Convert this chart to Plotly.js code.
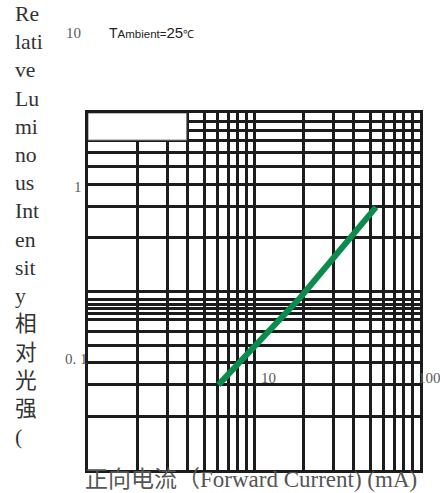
<!DOCTYPE html>
<html>
<head>
<meta charset="utf-8">
<script src="https://cdn.plot.ly/plotly-3.0.1.min.js"></script>
<style>
  html, body { margin: 0; padding: 0; background: #fff; }
  #chart { width: 440px; height: 493px; }
</style>
</head>
<body>
<div id="chart"></div>
<script>
// ---- data ----
const forwardCurrent = [6.1, 9.5, 18.9, 28.3, 54.3];        // mA
const relIntensity   = [0.30, 0.47, 0.92, 1.44, 2.97];      // relative
const xGridVals = [1,2,3,4,5,6,7,8,9,10,20,30,40,50,60,70,80,90,100];
const yGridVals = [0.1,0.2,0.3,0.4,0.5,0.6,0.7,0.75,0.8,0.85,0.9,1,2,3,4,5,6,7,8,9,10];
const xTickLabels = ['10', '100'];
const yTickLabels = ['10', '1', '0. 1'];
const yTitleParts = ['Re','lati','ve','Lu','mi','no','us','Int','en','sit','y','相','对','光','强','('];
const xTitleText = '正向电流（Forward Current) (mA)';
const ambientText = ['T', 'Ambient=', '25', '℃'];

// ---- layout geometry ----
const W = 440, H = 493;
const L = 88, R = 420, T = 113, B = 470;
const px = v => (v - L) / (R - L);
const py = v => (B - v) / (B - T);

const serif = 'Liberation Serif, Noto Sans CJK SC, serif';
const sans = 'Liberation Sans, Arial, sans-serif';

const trace = {
  x: forwardCurrent,
  y: relIntensity,
  type: 'scatter',
  mode: 'lines',
  line: { color: '#0b8c4c', width: 6 },
  hoverinfo: 'skip'
};

const annotations = [
  // y tick labels
  { text: yTickLabels[0], x: px(73.5), y: py(33) },
  { text: yTickLabels[1], x: px(77.5), y: py(187) },
  { text: yTickLabels[2], x: px(76.5), y: py(359) },
  // x tick labels
  { text: xTickLabels[0], x: px(268.5), y: py(378) },
  { text: xTickLabels[1], x: px(429.5), y: py(378) }
].map(a => Object.assign({
  xref: 'paper', yref: 'paper', showarrow: false,
  xanchor: 'center', yanchor: 'middle',
  font: { family: serif, size: 15, color: '#5a5a5a' }
}, a));

annotations.push({
  xref: 'paper', yref: 'paper', showarrow: false,
  x: px(107), y: py(33), xanchor: 'left', yanchor: 'middle',
  text: '<span style="font-size:14px">' + ambientText[0] + '</span>' +
        '<span style="font-size:11.5px">' + ambientText[1] + '</span>' +
        '<span style="font-size:15px">' + ambientText[2] + '</span>' +
        '<span style="font-size:11px">' + ambientText[3] + '</span>',
  font: { family: sans, size: 14, color: '#222' }
});

annotations.push({
  xref: 'paper', yref: 'paper', showarrow: false,
  x: px(251), y: py(480), xanchor: 'center', yanchor: 'middle',
  text: xTitleText,
  font: { family: serif, size: 23, color: '#555' }
});

annotations.push({
  xref: 'paper', yref: 'paper', showarrow: false,
  x: px(13), y: py(0), xanchor: 'left', yanchor: 'top', align: 'left',
  text: yTitleParts.join('<br>'),
  font: { family: serif, size: 21.7, color: '#333' }
});

const layout = {
  width: W, height: H,
  margin: { l: L, r: W - R, t: T, b: H - B, pad: 0 },
  paper_bgcolor: '#fff',
  plot_bgcolor: '#fff',
  showlegend: false,
  xaxis: {
    type: 'log', range: [0, 2],
    tickmode: 'array', tickvals: xGridVals,
    showticklabels: false, ticks: '',
    showgrid: true, gridcolor: '#1c1c1c', gridwidth: 3,
    showline: true, mirror: true, linecolor: '#1c1c1c', linewidth: 3,
    zeroline: false, fixedrange: true
  },
  yaxis: {
    type: 'log', range: [-1, 1],
    tickmode: 'array', tickvals: yGridVals,
    showticklabels: false, ticks: '',
    showgrid: true, gridcolor: '#1c1c1c', gridwidth: 3,
    showline: true, mirror: true, linecolor: '#1c1c1c', linewidth: 3,
    zeroline: false, fixedrange: true
  },
  shapes: [
    { type: 'rect', xref: 'x', yref: 'y', x0: 1, x1: 3.93, y0: 7.05, y1: 10,
      fillcolor: '#fff', line: { color: '#777', width: 1 }, layer: 'above' }
  ],
  annotations: annotations
};

Plotly.newPlot('chart', [trace], layout, { staticPlot: true, displayModeBar: false });
</script>
</body>
</html>
